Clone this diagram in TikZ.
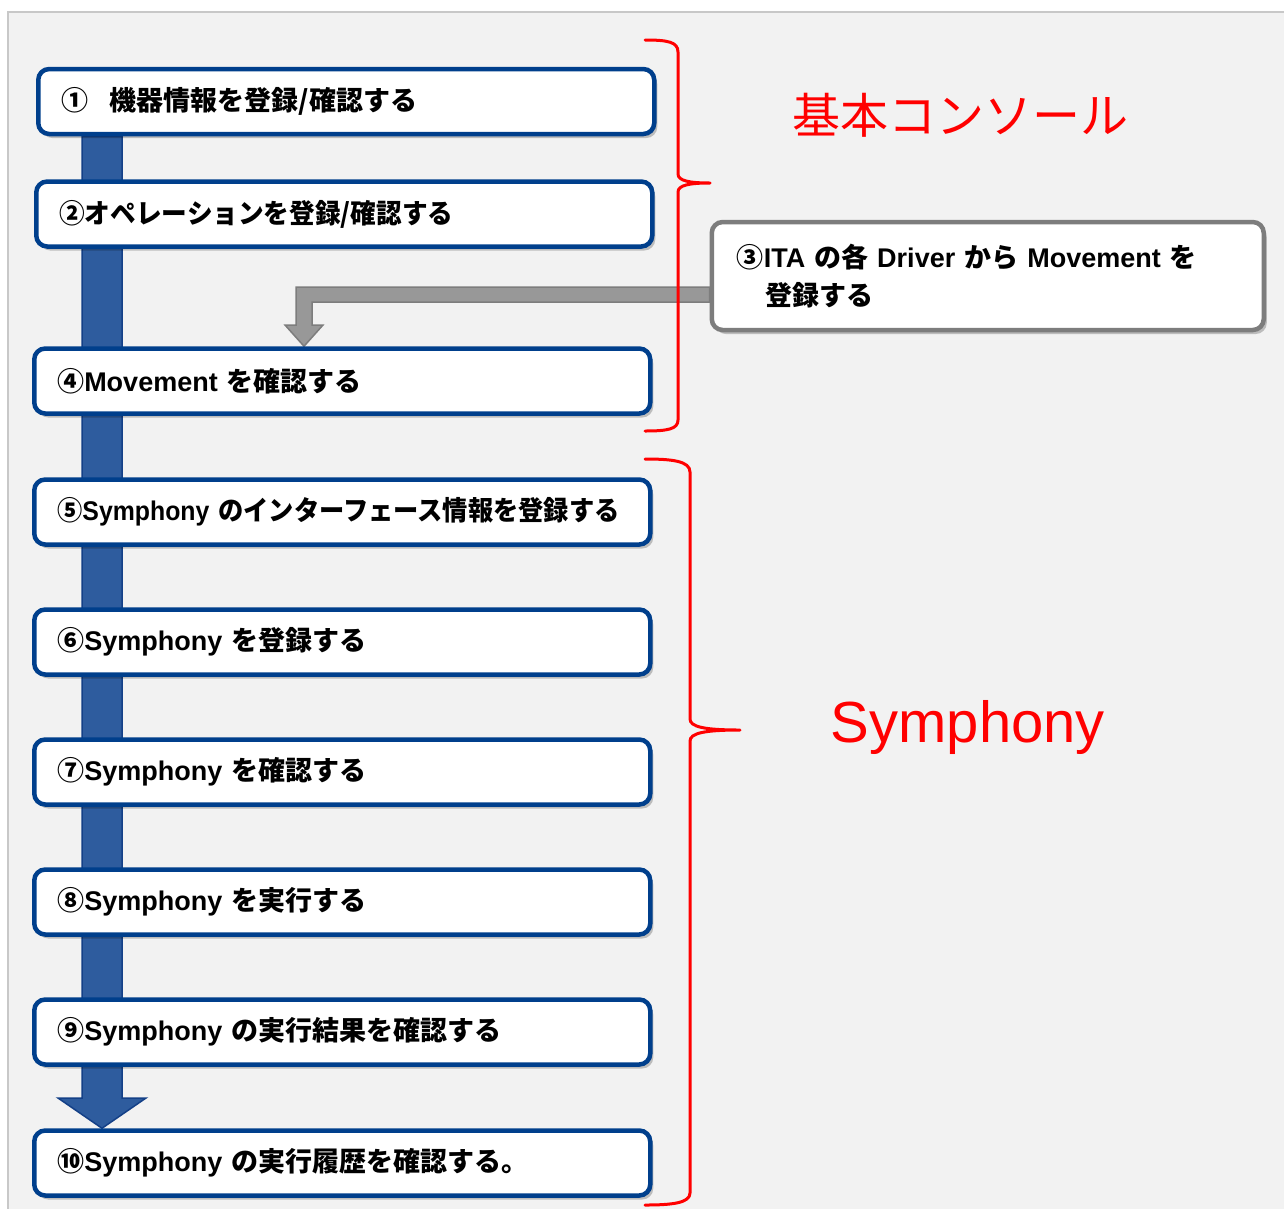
\documentclass[tikz,border=0pt]{standalone}
\usepackage{fontspec}
\newfontfamily\jp{Noto Sans CJK JP}
\newfontfamily\jpc{Noto Sans CJK JP}[FakeStretch=0.935]
\newfontfamily\jpn{Noto Sans CJK JP}[FakeStretch=0.95]
\newfontfamily\latb{Liberation Sans}
\newfontfamily\latc{Liberation Sans}[FakeStretch=0.92]
\newfontfamily\arialf{Liberation Sans}
\usetikzlibrary{shadows,calc}
\definecolor{boxblue}{RGB}{0,63,140}
\definecolor{barblue}{RGB}{46,92,158}
\definecolor{barline}{RGB}{20,64,135}
\definecolor{panel}{RGB}{242,242,242}
\definecolor{panelline}{RGB}{200,200,200}
\definecolor{grayfill}{RGB}{152,152,152}
\definecolor{grayline}{RGB}{125,125,125}
\definecolor{redc}{RGB}{255,0,0}
\pgfdeclarelayer{bg0}
\pgfdeclarelayer{bg1}
\pgfsetlayers{bg0,bg1,main}
\newcommand{\ltn}[1]{{\latb\bfseries #1}}
\tikzset{
  x=1pt, y=1pt,
  stepbox/.style={draw=boxblue, line width=4.5pt, rounded corners=11pt, fill=white,
    minimum width=616pt, minimum height=65pt, text width=570pt, inner xsep=23pt,
    align=left, anchor=west, font=\jp\bfseries\fontsize{27}{38}\selectfont,
    drop shadow={shadow xshift=3pt, shadow yshift=-4pt, opacity=0.22, fill=black}},
  sidebox/.style={stepbox, draw=grayline, minimum width=552pt, minimum height=108pt,
    text width=502pt, inner xsep=25pt},
  bracec/.style={draw=redc, line width=3pt, line join=round, line cap=round},
  barstyle/.style={fill=barblue, draw=barline, line width=1.5pt},
  grayarrow/.style={fill=grayfill, draw=grayline, line width=1.5pt},
}
\begin{document}
\begin{tikzpicture}
\useasboundingbox (0,0) rectangle (1284,-1208);
\begin{pgfonlayer}{bg0}
  \fill[panel] (8,-12) rectangle (1300,-1220);
  \draw[panelline, line width=2pt] (8,-1220) -- (8,-12) -- (1300,-12);
\end{pgfonlayer}

\node[stepbox] (b1) at (36,-101.5) {①\hspace{0.8em}機器情報を登録/確認する};
\node[stepbox] (b2) at (34,-214) {\jpn\bfseries ②オペレーションを登録/確認する};
\node[sidebox] (b3) at (709.5,-276) {③\ltn{ITA} の各 \ltn{Driver} から \ltn{Movement} を\\\hspace*{1.05em}登録する};
\node[stepbox] (b4) at (32,-381) {④\ltn{Movement} を確認する};
\node[stepbox] (b5) at (32,-512) {\jpc\bfseries ⑤{\latc Symphony} のインターフェース情報を登録する};
\node[stepbox] (b6) at (32,-642) {⑥\ltn{Symphony} を登録する};
\node[stepbox] (b7) at (32,-772) {⑦\ltn{Symphony} を確認する};
\node[stepbox] (b8) at (32,-902) {⑧\ltn{Symphony} を実行する};
\node[stepbox] (b9) at (32,-1032) {⑨\ltn{Symphony} の実行結果を確認する};
\node[stepbox] (b10) at (32,-1163) {⑩\ltn{Symphony} の実行履歴を確認する。};

\begin{pgfonlayer}{bg1}
  \draw[barstyle] (82,0 |- b1.south) -- (82,-1098) -- (58,-1098) -- (102,0 |- b10.north)
    -- (146,-1098) -- (122,-1098) -- (122,0 |- b1.south) -- cycle;
  \draw[grayarrow] (b3.west |- 0,-287) -- (296,-287) -- (296,-325) -- (285,-325)
    -- (304,0 |- b4.north) -- (323,-325) -- (312,-325) -- (312,-302)
    -- (b3.west |- 0,-302) -- cycle;
\end{pgfonlayer}

\draw[bracec] (645,-40) .. controls (668,-40) and (678,-42) .. (678,-52) -- (678,-174)
  .. controls (678,-181) and (690,-183) .. (710,-183)
  .. controls (690,-183) and (678,-185) .. (678,-192) -- (678,-420)
  .. controls (678,-429) and (668,-431) .. (645,-431);
\draw[bracec] (645,-459) .. controls (672,-459) and (690,-461) .. (690,-472) -- (690,-719)
  .. controls (690,-727) and (705,-730) .. (740,-730)
  .. controls (705,-730) and (690,-733) .. (690,-741) -- (690,-1193)
  .. controls (690,-1203) and (672,-1205) .. (645,-1205);

\node[text=redc, font=\jp\fontsize{48}{56}\selectfont, anchor=center] (lbl1) at (960,-115) {基本コンソール};
\node[text=redc, font=\arialf\fontsize{58}{66}\selectfont, anchor=center] (lbl2) at (968,-727) {Symphony};
\end{tikzpicture}
\end{document}
